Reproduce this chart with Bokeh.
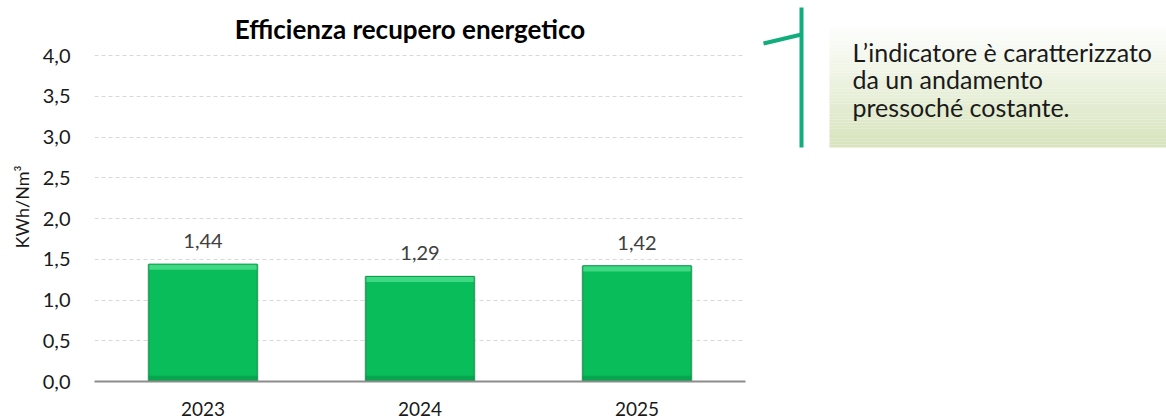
from bokeh.plotting import figure
from bokeh.layouts import row
from bokeh.models import Range1d, FixedTicker, Title
from bokeh.core.properties import value
from bokeh.embed import file_html
from bokeh.resources import INLINE

categories = ["2023", "2024", "2025"]
values = [1.44, 1.29, 1.42]
value_labels = ["1,44", "1,29", "1,42"]
y_ticks = [0.0, 0.5, 1.0, 1.5, 2.0, 2.5, 3.0, 3.5, 4.0]
y_tick_labels = ["0,0", "0,5", "1,0", "1,5", "2,0", "2,5", "3,0", "3,5", "4,0"]
title_text = "Efficienza recupero energetico"
y_label = "KWh/Nm³"
note_lines = ["L’indicatore è caratterizzato", "da un andamento", "pressoché costante."]

FONT = "Lato"
H = 419
FRAME_BOTTOM = 381       # pixel row of the x axis
PX_PER_UNIT = 81.5       # vertical scale of the value axis
Y_TOP = FRAME_BOTTOM / PX_PER_UNIT   # data value at the top edge of the frame

p = figure(x_range=categories, y_range=Range1d(0, Y_TOP), width=760, height=H,
           output_backend="svg", toolbar_location=None, title=None,
           min_border_left=94, min_border_right=15, min_border_top=0,
           min_border_bottom=H - FRAME_BOTTOM)
p.outline_line_color = None
p.background_fill_color = "white"
p.x_range.range_padding = 0

p.xgrid.grid_line_color = None
p.ygrid.grid_line_color = "#d9d9d9"
p.ygrid.grid_line_dash = "4 3"
p.ygrid.grid_line_width = 1

p.yaxis.ticker = FixedTicker(ticks=y_ticks)
p.yaxis.major_label_overrides = {t: l for t, l in zip(y_ticks, y_tick_labels)}
p.yaxis.axis_line_color = None
p.yaxis.major_tick_line_color = None
p.yaxis.minor_tick_line_color = None
p.yaxis.major_label_standoff = 18
p.yaxis.major_label_text_font = FONT
p.yaxis.major_label_text_font_size = "20px"
p.yaxis.major_label_text_color = "#1a1a1a"

# value-axis title, placed from the bottom of the frame
p.add_layout(Title(text=y_label, align="left", offset=133, standoff=14,
                   text_font=FONT, text_font_size="18px", text_font_style="normal",
                   text_color="#1a1a1a"), "left")

p.xaxis.axis_line_color = "#8c8c8c"
p.xaxis.axis_line_width = 2
p.xaxis.major_tick_line_color = None
p.xaxis.minor_tick_line_color = None
p.xaxis.major_label_standoff = 14
p.xaxis.major_label_text_font = FONT
p.xaxis.major_label_text_font_size = "19px"
p.xaxis.major_label_text_color = "#1a1a1a"

bevel = 0.07
p.vbar(x=categories, top=values, width=0.515, bottom=0, fill_color="#bdbdbd", line_color=None,
       fill_alpha=0.5)
p.vbar(x=categories, top=values, width=0.5, bottom=0, fill_color="#09bd5a", line_color=None)
p.vbar(x=categories, top=values, bottom=[v - bevel for v in values], width=0.5,
       fill_color="#3fd883", line_color=None)
p.vbar(x=categories, top=[bevel] * len(values), bottom=0, width=0.5,
       fill_color="#06a54e", line_color=None)
p.vbar(x=categories, top=values, width=0.5, bottom=0, fill_color=None, line_color="#07954a",
       line_width=1)
p.text(x=categories, y=values, text=value_labels, y_offset=-23, text_align="center",
       text_baseline="middle", text_font=value(FONT), text_font_size="20px",
       text_color="#404040")

# chart title (drawn as text above the 4,0 grid line)
title_y = (FRAME_BOTTOM - 28) / PX_PER_UNIT
p.text(x=["2024"], y=[title_y], text=[title_text], x_offset=-10, text_align="center",
       text_baseline="middle", text_font=value(FONT), text_font_size="26px",
       text_font_style="bold", text_color="#000000")

# callout panel, in pixel coordinates of the page
c = figure(width=1166 - 760, height=H, x_range=Range1d(760, 1166),
           y_range=Range1d(FRAME_BOTTOM, 0), output_backend="svg", toolbar_location=None,
           title=None, min_border_left=0, min_border_right=0, min_border_top=0,
           min_border_bottom=H - FRAME_BOTTOM)
c.axis.visible = False
c.grid.grid_line_color = None
c.outline_line_color = None

n = 40
top_c = (255, 255, 255)
bot_c = (215, 228, 189)
y0, y1 = 22, 147
tops, bottoms, cols = [], [], []
for i in range(n):
    t = i / (n - 1)
    col = tuple(int(top_c[k] + (bot_c[k] - top_c[k]) * t) for k in range(3))
    cols.append("#%02x%02x%02x" % col)
    tops.append(y0 + (y1 - y0) * i / n)
    bottoms.append(y0 + (y1 - y0) * (i + 1) / n)
c.quad(left=829, right=1166, top=tops, bottom=bottoms, fill_color=cols, line_color=None)

c.line([801, 801], [7, 147], line_width=4, line_color="#12ad7d")
c.line([763, 801], [43, 34], line_width=4, line_color="#12ad7d")

c.text(x=[852] * 3, y=[51, 78.5, 106], text=note_lines, text_baseline="middle",
       text_font=value(FONT), text_font_size="25px", text_color="#1a1a1a")

layout = row(p, c)
open("out.html", "w").write(file_html(layout, INLINE))
